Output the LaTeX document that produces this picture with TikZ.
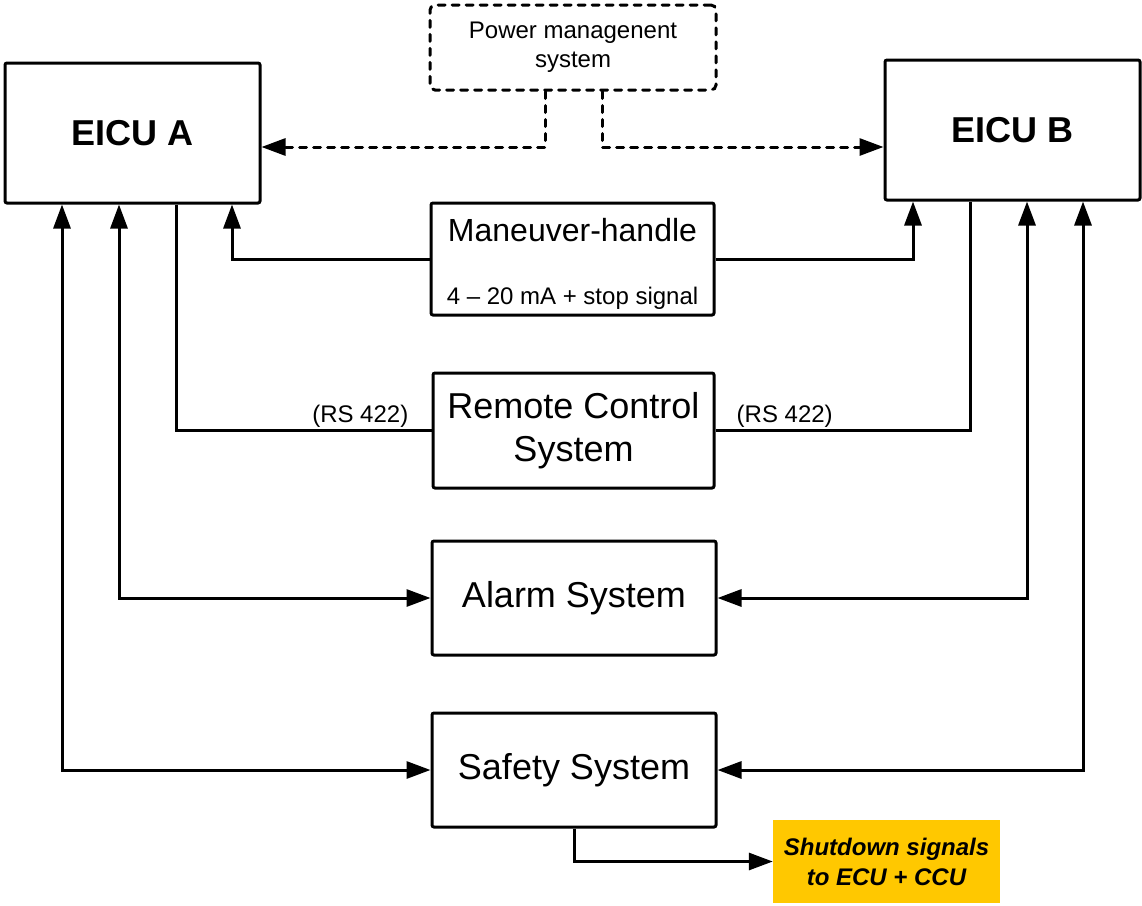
\documentclass[tikz,border=0pt]{standalone}
\usepackage{fontspec}
\setmainfont{Liberation Sans}
\usetikzlibrary{arrows.meta,calc}
\definecolor{signalgold}{RGB}{255,200,0}
\begin{document}
\begin{tikzpicture}[x=1pt,y=-1pt,
  box/.style={draw, line width=3pt, rounded corners=2pt, fill=white, inner sep=0pt, align=center},
  dashbox/.style={draw, line width=3pt, rounded corners=5pt, dash pattern=on 7pt off 7pt, line cap=round, inner sep=0pt, align=center},
  hugefont/.style={font=\fontsize{36}{40}\selectfont\bfseries},
  bigfont/.style={font=\fontsize{36}{43}\selectfont},
  midfont/.style={font=\fontsize{32}{38}\selectfont},
  smallfont/.style={font=\fontsize{24}{29}\selectfont},
  link/.style={line width=3pt},
  tip/.style={-{Triangle[length=24pt,width=17pt]}},
  bothtips/.style={{Triangle[length=24pt,width=17pt]}-{Triangle[length=24pt,width=17pt]}},
  dashlink/.style={line width=3pt, dash pattern=on 7pt off 7pt, line cap=round}
]
\useasboundingbox (0,0) rectangle (1142,905);

% units and supervisory blocks
\node[box, hugefont, minimum width=255pt, minimum height=140pt] (ea) at (132.5,133) {EICU A};
\node[box, hugefont, minimum width=255pt, minimum height=140pt] (eb) at (1012.5,130) {EICU B};
\node[dashbox, smallfont, minimum width=286pt, minimum height=85pt] (pm) at (573,47.5) {Power managenent\\system};

% control and monitoring systems
\node[box, minimum width=283pt, minimum height=112pt] (mh) at (572.5,259) {};
\node[midfont] (mhtitle) at ([yshift=-29pt]mh.north) {Maneuver-handle};
\node[smallfont] (mhsig) at ([yshift=18pt]mh.south) {4 -- 20 mA + stop signal};
\node[box, bigfont, minimum width=281pt, minimum height=115pt] (rcs) at (573.5,430.5) {Remote Control\\System};
\node[box, bigfont, minimum width=284pt, minimum height=114pt] (alarm) at (574,598) {Alarm System};
\node[box, bigfont, minimum width=284pt, minimum height=114pt] (safety) at (574,770) {Safety System};
\node[fill=signalgold, minimum width=227pt, minimum height=83pt, inner sep=0pt, align=center,
      font=\fontsize{24}{30}\selectfont\bfseries\itshape] (sd) at (886.5,861.5) {Shutdown signals\\to ECU + CCU};

% bus labels
\node[smallfont, anchor=base east, inner sep=0pt] (rsa) at ([xshift=-23pt,yshift=8.5pt]rcs.west) {(RS 422)};
\node[smallfont, anchor=base west, inner sep=0pt] (rsb) at ([xshift=21pt,yshift=8.5pt]rcs.east) {(RS 422)};

% power management links
\draw[dashlink, tip] ([xshift=-28pt]pm.south) |- ([yshift=-14pt]ea.east);
\draw[dashlink, tip] ([xshift=29pt]pm.south) |- ([yshift=-17pt]eb.west);

% maneuver handle signals
\draw[link, tip] (mh.west) -| ([xshift=99.5pt]ea.south);
\draw[link, tip] (mh.east) -| ([xshift=-99.5pt]eb.south);

% remote control buses
\draw[link] ([xshift=43.5pt]ea.south) |- (rcs.west);
\draw[link] ([xshift=-42.5pt]eb.south) |- (rcs.east);

% alarm and safety links
\draw[link, bothtips] ([xshift=-13.5pt]ea.south) |- (alarm.west);
\draw[link, bothtips] ([xshift=14.5pt]eb.south) |- (alarm.east);
\draw[link, bothtips] ([xshift=-70.5pt]ea.south) |- (safety.west);
\draw[link, bothtips] ([xshift=70.5pt]eb.south) |- (safety.east);

% shutdown output
\draw[link, tip] (safety.south) |- (sd.west);
\end{tikzpicture}
\end{document}
